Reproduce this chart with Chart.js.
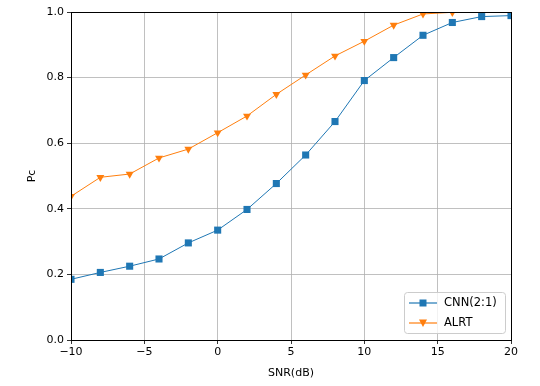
<!DOCTYPE html>
<html>
<head>
<meta charset="utf-8">
<script src="https://cdn.jsdelivr.net/npm/chart.js@4.4.1/dist/chart.umd.min.js"></script>
<style>
  html, body { margin: 0; padding: 0; background: #fff; }
  #wrap { width: 540px; height: 386px; position: relative; }
</style>
</head>
<body>
<div id="wrap"><canvas id="chart"></canvas></div>
<script>
// SNR vs Pc data
const snr = [-10, -8, -6, -4, -2, 0, 2, 4, 6, 8, 10, 12, 14, 16, 18, 20];
const cnnPc = [0.185, 0.206, 0.225, 0.247, 0.296, 0.335, 0.398, 0.477, 0.564, 0.666, 0.791, 0.861, 0.929, 0.968, 0.986, 0.989];
const alrtPc = [0.438, 0.496, 0.506, 0.555, 0.582, 0.632, 0.683, 0.749, 0.808, 0.866, 0.911, 0.960, 0.994, 0.999, 1.0, 1.0];
const xTicks = [-10, -5, 0, 5, 10, 15, 20];

const BLUE = '#1f77b4';
const ORANGE = '#ff7f0e';
const FONT = 'DejaVu Sans';

// matplotlib-style minus sign
function fmtX(v) {
    return v < 0 ? '\u2212' + Math.abs(v) : String(v);
}

// Small canvas for legend entries: a line with its marker in the middle
function legendIcon(color, style) {
    const c = document.createElement('canvas');
    c.width = 28; c.height = 12;
    const g = c.getContext('2d');
    g.strokeStyle = color;
    g.lineWidth = 1.2;
    g.beginPath(); g.moveTo(0, 6); g.lineTo(28, 6); g.stroke();
    g.fillStyle = color;
    g.beginPath();
    if (style === 'rect') {
        g.rect(10.5, 2.5, 7, 7);
    } else {
        g.moveTo(10, 2.5); g.lineTo(18, 2.5); g.lineTo(14, 10); g.closePath();
    }
    g.fill();
    return c;
}

// Frame around the plot area (all four spines)
const framePlugin = {
    id: 'frame',
    afterDatasetsDraw(chart) {
        const a = chart.chartArea;
        const ctx = chart.ctx;
        ctx.save();
        ctx.strokeStyle = '#000';
        ctx.lineWidth = 1;
        ctx.strokeRect(Math.round(a.left) + 0.5, Math.round(a.top) + 0.5,
            Math.round(a.right - a.left), Math.round(a.bottom - a.top));
        ctx.restore();
    }
};

// Legend box inside the lower-right corner of the plot
const innerLegend = {
    id: 'innerLegend',
    afterDraw(chart) {
        const a = chart.chartArea;
        const ctx = chart.ctx;
        const w = 101, h = 41;
        const x = a.right - 6 - w, y = a.bottom - 7 - h;
        ctx.save();
        ctx.fillStyle = 'rgba(255,255,255,0.8)';
        ctx.strokeStyle = '#cccccc';
        ctx.lineWidth = 1;
        ctx.beginPath();
        ctx.roundRect(x + 0.5, y + 0.5, w, h, 3);
        ctx.fill();
        ctx.stroke();
        ctx.font = '11.5px ' + FONT;
        ctx.textBaseline = 'middle';
        ctx.fillStyle = '#000';
        chart.data.datasets.forEach((ds, i) => {
            const cy = y + 11 + i * 20;
            ctx.drawImage(ds._icon, x + 5, cy - 6);
            ctx.fillText(ds.label, x + 40, cy);
        });
        ctx.restore();
    }
};

const cnnDataset = {
    label: 'CNN(2:1)',
    data: snr.map((x, i) => ({ x: x, y: cnnPc[i] })),
    borderColor: BLUE,
    backgroundColor: BLUE,
    borderWidth: 1,
    pointStyle: 'rect',
    pointRadius: 5,
    pointBorderWidth: 0,
    clip: 0,
    _icon: legendIcon(BLUE, 'rect')
};

const alrtDataset = {
    label: 'ALRT',
    data: snr.map((x, i) => ({ x: x, y: alrtPc[i] })),
    borderColor: ORANGE,
    backgroundColor: ORANGE,
    borderWidth: 1,
    pointStyle: 'triangle',
    pointRotation: 180,
    pointRadius: 4.6,
    pointBorderWidth: 0,
    clip: 0,
    _icon: legendIcon(ORANGE, 'tri')
};

new Chart(document.getElementById('chart'), {
    type: 'line',
    data: { datasets: [cnnDataset, alrtDataset] },
    plugins: [framePlugin, innerLegend],
    options: {
        responsive: true,
        maintainAspectRatio: false,
        animation: false,
        layout: { padding: { left: 0, right: 29, top: 12, bottom: 0 } },
        plugins: {
            legend: { display: false },
            tooltip: { enabled: false }
        },
        elements: { line: { tension: 0 } },
        scales: {
            x: {
                type: 'linear',
                min: -10,
                max: 20,
                afterBuildTicks: axis => { axis.ticks = xTicks.map(v => ({ value: v })); },
                afterFit: axis => { axis.height = 46; },
                ticks: {
                    callback: v => fmtX(v),
                    color: '#000',
                    font: { family: FONT, size: 11 },
                    padding: 2,
                    maxRotation: 0
                },
                grid: {
                    color: '#b0b0b0',
                    lineWidth: 0.8,
                    tickColor: '#000',
                    tickLength: 4
                },
                border: { display: false },
                title: {
                    display: true,
                    text: 'SNR(dB)',
                    color: '#000',
                    font: { family: FONT, size: 11 },
                    padding: { top: 4, bottom: 6 }
                }
            },
            y: {
                type: 'linear',
                min: 0,
                max: 1,
                afterFit: axis => { axis.width = 71; },
                ticks: {
                    stepSize: 0.2,
                    callback: v => v.toFixed(1),
                    color: '#000',
                    font: { family: FONT, size: 11 },
                    padding: 3
                },
                grid: {
                    color: '#b0b0b0',
                    lineWidth: 0.8,
                    tickColor: '#000',
                    tickLength: 4
                },
                border: { display: false },
                title: {
                    display: true,
                    text: 'Pc',
                    color: '#000',
                    font: { family: FONT, size: 11 },
                    padding: { top: 26, bottom: 0 }
                }
            }
        }
    }
});
</script>
</body>
</html>
